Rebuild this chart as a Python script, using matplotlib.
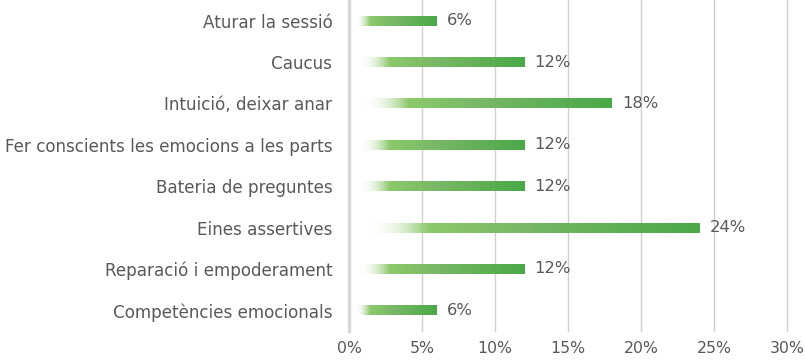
import numpy as np
import matplotlib.pyplot as plt
from matplotlib.colors import LinearSegmentedColormap

# ==========================================================
# DATA
# ==========================================================

categories = [
    "Aturar la sessió",
    "Caucus",
    "Intuició, deixar anar",
    "Fer conscients les emocions a les parts",
    "Bateria de preguntes",
    "Eines assertives",
    "Reparació i empoderament",
    "Competències emocionals",
]

values = [6, 12, 18, 12, 12, 24, 12, 6]

ticks = [0, 5, 10, 15, 20, 25, 30]

# ==========================================================
# STYLE
# ==========================================================

plt.rcParams["font.family"] = ["DejaVu Sans"]

text_color = "#595959"

bar_cmap = LinearSegmentedColormap.from_list(
    "bar_grad",
    [
        (0.00, (1.00, 1.00, 1.00, 0.0)),
        (0.05, (1.00, 1.00, 1.00, 0.0)),
        (0.22, (0.55, 0.79, 0.42, 1.0)),
        (0.50, (0.47, 0.72, 0.40, 1.0)),
        (1.00, (0.29, 0.66, 0.28, 1.0)),
    ]
)

gradient = np.linspace(0, 1, 256).reshape(1, -1)

# ==========================================================
# FIGURE
# ==========================================================

fig = plt.figure(figsize=(8.05, 3.62), dpi=100)

ax = fig.add_axes([349 / 805, 31 / 362, 438 / 805, 331 / 362])

bar_h = 0.24

for i, v in enumerate(values):

    ax.imshow(
        gradient,
        cmap=bar_cmap,
        aspect="auto",
        extent=[0.15, v, i + bar_h / 2, i - bar_h / 2],
        interpolation="bicubic",
        zorder=3
    )

    ax.text(
        v + 0.7,
        i,
        f"{v}%",
        va="center",
        ha="left",
        fontsize=11.8,
        color=text_color
    )

ax.set_xlim(0, 30)
ax.set_ylim(7.5, -0.5)

ax.set_xticks(ticks)
ax.set_xticklabels([f"{t}%" for t in ticks], fontsize=11.3, color=text_color)

ax.set_yticks(range(len(categories)))
ax.set_yticklabels(categories, fontsize=12.1, color=text_color)

ax.tick_params(axis="both", length=0)
ax.tick_params(axis="y", pad=12)
ax.tick_params(axis="x", pad=7)

ax.grid(axis="x", color="#d0d0d0", linewidth=1, zorder=0)
for line in ax.get_xgridlines():
    line.set_clip_on(False)
ax.set_axisbelow(True)

for side in ["top", "right", "bottom"]:
    ax.spines[side].set_visible(False)

ax.spines["left"].set_color("#d9d9d9")
ax.spines["left"].set_linewidth(2.5)

fig.savefig("out.png", dpi=100)
